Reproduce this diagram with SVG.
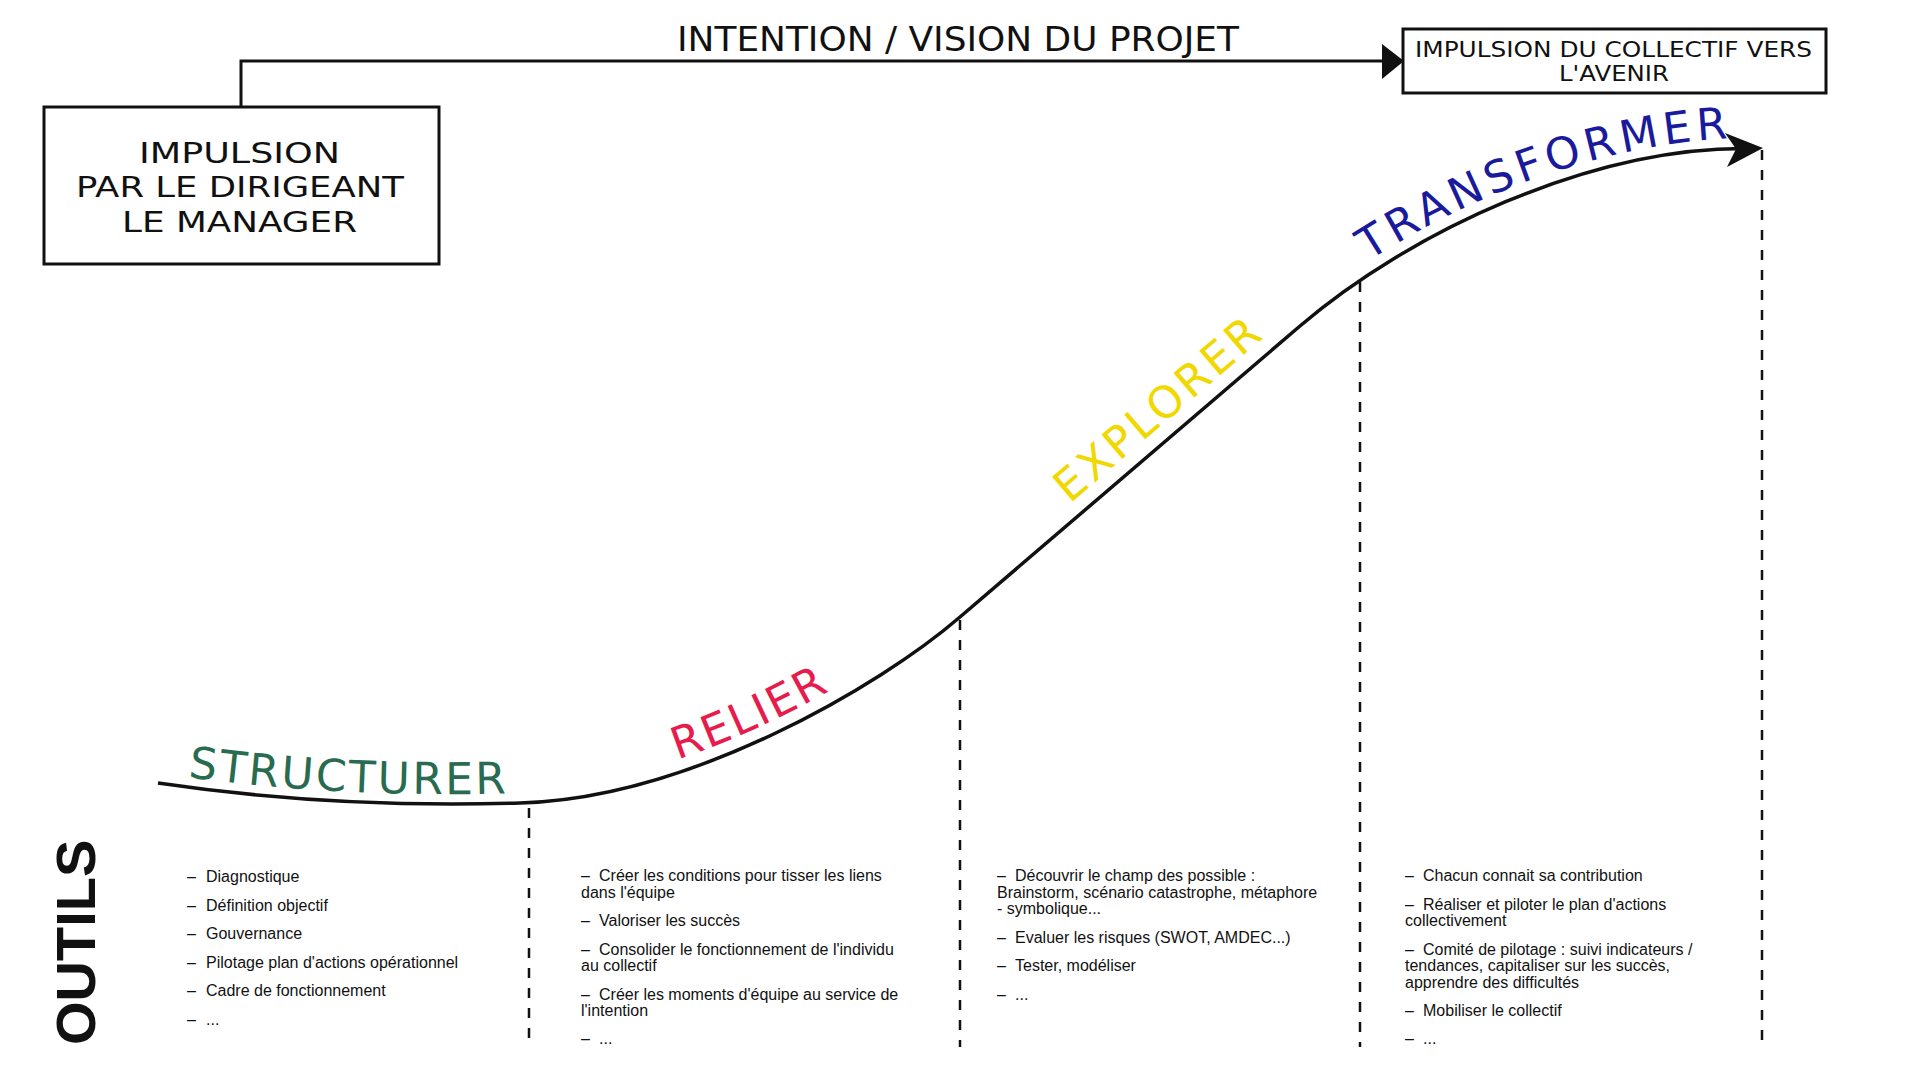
<svg xmlns="http://www.w3.org/2000/svg" width="1920" height="1080" viewBox="0 0 1920 1080">
  <style>
    .h { font-family: "DejaVu Sans", "Noto Sans", sans-serif; fill: #111; }
    .b { font-family: "Liberation Sans", Arial, sans-serif; font-size: 16px; fill: #111; }
    .stage { font-family: "DejaVu Sans", "Noto Sans", sans-serif; font-size: 44px; letter-spacing: 2.5px; }
    .box { fill: #fff; stroke: #111; stroke-width: 3; }
    .line { fill: none; stroke: #111; stroke-width: 3; }
    .curve { fill: none; stroke: #111; stroke-width: 3.5; }
    .dash { fill: none; stroke: #111; stroke-width: 2.5; stroke-dasharray: 10 10; }
    .head { fill: #111; }
  </style>
  <defs>
    <path id="p-struct" d="M158,773 C300,794 420,796 520,793"/>
    <path id="p-relier" d="M516,791 C686,786 876,674 956,605"/>
    <path id="p-explorer" d="M950.6,606 L1290.6,315"/>
    <path id="p-transformer" d="M1292.8,317.6 C1402.8,223.4 1580,137 1760,137.5"/>
  </defs>
  <rect width="1920" height="1080" fill="#fff"/>

  <g id="connectors">
    <path class="line" d="M241,107 V61 H1384"/>
    <polygon class="head" points="1382,44 1404,61 1382,79"/>
    <path class="curve" d="M158,783 C300,804 420,806 520,803 C690,798 880,686 960,617 L1300,326 C1410,231.8 1590,148 1745,148.5"/>
    <polygon class="head" points="1763,148 1725,133 1736,149 1727,167"/>
    <line class="dash" x1="529" y1="808" x2="529" y2="1047"/>
    <line class="dash" x1="960" y1="620" x2="960" y2="1047"/>
    <line class="dash" x1="1360" y1="282" x2="1360" y2="1047"/>
    <line class="dash" x1="1762" y1="150" x2="1762" y2="1047"/>
  </g>

  <g id="title-intention">
    <text class="h" x="677" y="51" font-size="33" textLength="562" lengthAdjust="spacingAndGlyphs">INTENTION / VISION DU PROJET</text>
  </g>

  <g id="node-impulsion-dirigeant">
    <rect class="box" x="44" y="107" width="395" height="157"/>
    <text class="h" x="139" y="163" font-size="29" textLength="201" lengthAdjust="spacingAndGlyphs">IMPULSION</text>
    <text class="h" x="76" y="197" font-size="29" textLength="328" lengthAdjust="spacingAndGlyphs">PAR LE DIRIGEANT</text>
    <text class="h" x="122" y="232" font-size="29" textLength="235" lengthAdjust="spacingAndGlyphs">LE MANAGER</text>
  </g>

  <g id="node-impulsion-collectif">
    <rect class="box" x="1403" y="29" width="423" height="64"/>
    <text class="h" x="1415" y="57" font-size="21" textLength="397" lengthAdjust="spacingAndGlyphs">IMPULSION DU COLLECTIF VERS</text>
    <text class="h" x="1559" y="81" font-size="21" textLength="110" lengthAdjust="spacingAndGlyphs">L'AVENIR</text>
  </g>

  <g id="stage-structurer">
    <text class="stage" fill="#286b50"><textPath href="#p-struct" startOffset="30">STRUCTURER</textPath></text>
  </g>
  <g id="stage-relier">
    <text class="stage" fill="#e61c4c"><textPath href="#p-relier" startOffset="165">RELIER</textPath></text>
  </g>
  <g id="stage-explorer">
    <text class="stage" fill="#f0d800" style="letter-spacing:3.5px"><textPath href="#p-explorer" startOffset="157">EXPLORER</textPath></text>
  </g>
  <g id="stage-transformer">
    <text class="stage" fill="#1a1a9c" style="letter-spacing:5px"><textPath href="#p-transformer" startOffset="95">TRANSFORMER</textPath></text>
  </g>

  <g id="label-outils">
    <text transform="translate(95,1045) rotate(-90)" font-family="Liberation Sans, Arial, sans-serif" font-weight="bold" font-size="56" fill="#111">OUTILS</text>
  </g>

  <g id="tools-structurer">
    <text class="b" x="187" y="882">–</text><text class="b" x="206" y="882">Diagnostique</text>
    <text class="b" x="187" y="910.5">–</text><text class="b" x="206" y="910.5">Définition objectif</text>
    <text class="b" x="187" y="939">–</text><text class="b" x="206" y="939">Gouvernance</text>
    <text class="b" x="187" y="967.5">–</text><text class="b" x="206" y="967.5">Pilotage plan d'actions opérationnel</text>
    <text class="b" x="187" y="996">–</text><text class="b" x="206" y="996">Cadre de fonctionnement</text>
    <text class="b" x="187" y="1024.5">–</text><text class="b" x="206" y="1024.5">...</text>
  </g>

  <g id="tools-relier">
    <text class="b" x="581" y="881">–</text><text class="b" x="599" y="881">Créer les conditions pour tisser les liens</text>
    <text class="b" x="581" y="897.5">dans l'équipe</text>
    <text class="b" x="581" y="926">–</text><text class="b" x="599" y="926">Valoriser les succès</text>
    <text class="b" x="581" y="954.5">–</text><text class="b" x="599" y="954.5">Consolider le fonctionnement de l'individu</text>
    <text class="b" x="581" y="971">au collectif</text>
    <text class="b" x="581" y="999.5">–</text><text class="b" x="599" y="999.5">Créer les moments d'équipe au service de</text>
    <text class="b" x="581" y="1016">l'intention</text>
    <text class="b" x="581" y="1044">–</text><text class="b" x="599" y="1044">...</text>
  </g>

  <g id="tools-explorer">
    <text class="b" x="997" y="881">–</text><text class="b" x="1015" y="881">Découvrir le champ des possible :</text>
    <text class="b" x="997" y="897.5">Brainstorm, scénario catastrophe, métaphore</text>
    <text class="b" x="997" y="914">- symbolique...</text>
    <text class="b" x="997" y="942.5">–</text><text class="b" x="1015" y="942.5">Evaluer les risques (SWOT, AMDEC...)</text>
    <text class="b" x="997" y="971">–</text><text class="b" x="1015" y="971">Tester, modéliser</text>
    <text class="b" x="997" y="999.5">–</text><text class="b" x="1015" y="999.5">...</text>
  </g>

  <g id="tools-transformer">
    <text class="b" x="1405" y="881">–</text><text class="b" x="1423" y="881">Chacun connait sa contribution</text>
    <text class="b" x="1405" y="909.5">–</text><text class="b" x="1423" y="909.5">Réaliser et piloter le plan d'actions</text>
    <text class="b" x="1405" y="926">collectivement</text>
    <text class="b" x="1405" y="954.5">–</text><text class="b" x="1423" y="954.5">Comité de pilotage : suivi indicateurs /</text>
    <text class="b" x="1405" y="971">tendances, capitaliser sur les succès,</text>
    <text class="b" x="1405" y="987.5">apprendre des difficultés</text>
    <text class="b" x="1405" y="1016">–</text><text class="b" x="1423" y="1016">Mobiliser le collectif</text>
    <text class="b" x="1405" y="1044">–</text><text class="b" x="1423" y="1044">...</text>
  </g>
</svg>
